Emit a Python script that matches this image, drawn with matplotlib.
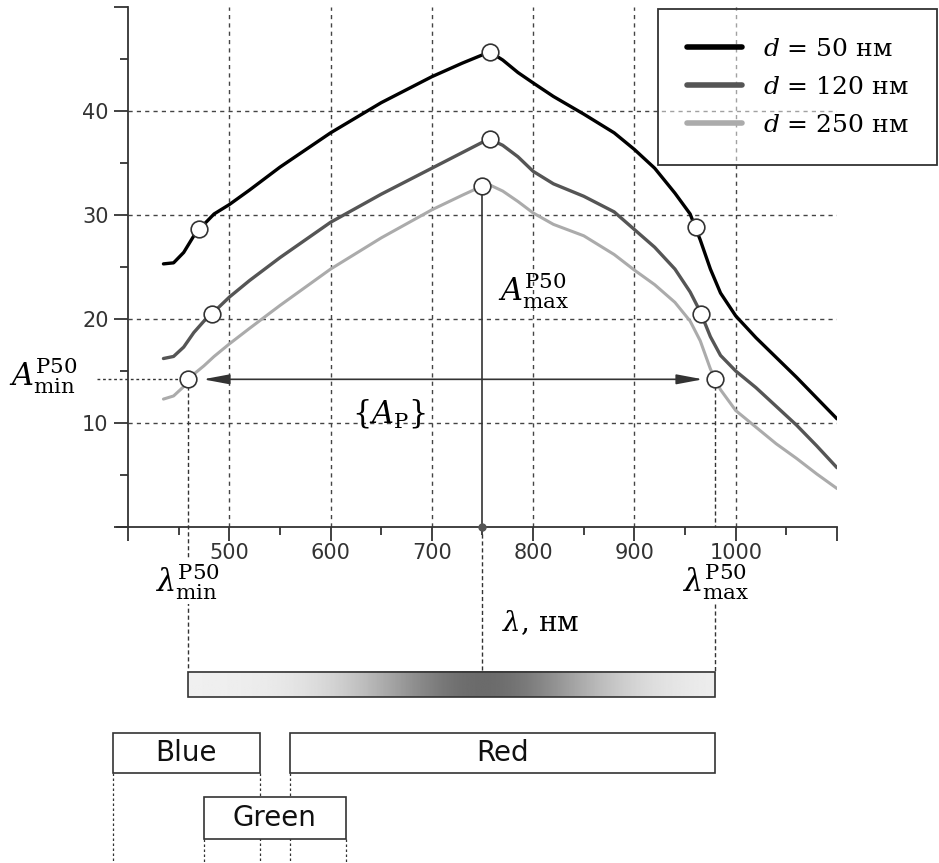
import numpy as np
import matplotlib
matplotlib.use('Agg')
import matplotlib.pyplot as plt
from matplotlib.patches import Rectangle

# spectra
wl = [435, 445, 455, 465, 475, 485, 500, 520, 550, 600, 650, 700, 730, 750, 757,
      770, 785, 800, 820, 850, 880, 900, 920, 940, 955, 965, 975, 985, 1000,
      1020, 1040, 1060, 1080, 1100]
a50 = [25.3, 25.4, 26.4, 28.0, 29.1, 30.1, 31.0, 32.4, 34.6, 37.9, 40.8, 43.3, 44.6,
       45.4, 45.7, 44.9, 43.7, 42.7, 41.4, 39.7, 37.9, 36.3, 34.5, 32.1, 30.1, 27.6,
       24.8, 22.5, 20.3, 18.2, 16.3, 14.4, 12.4, 10.4]
a120 = [16.2, 16.4, 17.3, 18.7, 19.8, 20.7, 22.1, 23.7, 25.9, 29.3, 32.0, 34.5, 36.0,
        37.0, 37.3, 36.7, 35.6, 34.2, 33.0, 31.8, 30.3, 28.6, 26.9, 24.8, 22.6, 20.7,
        18.3, 16.5, 15.0, 13.4, 11.6, 9.8, 7.8, 5.7]
a250 = [12.3, 12.6, 13.5, 14.7, 15.5, 16.4, 17.6, 19.1, 21.3, 24.8, 27.8, 30.5, 31.9,
        32.8, 32.9, 32.3, 31.3, 30.2, 29.1, 28.0, 26.2, 24.7, 23.3, 21.6, 19.8, 17.9,
        15.2, 13.2, 11.2, 9.6, 8.0, 6.6, 5.1, 3.7]
series = [a50, a120, a250]
names = [r'$d$ = 50 нм', r'$d$ = 120 нм', r'$d$ = 250 нм']

# P50 points (min, max, min) per curve
mark_x = [[470, 757, 961], [483, 757, 966], [459, 750, 980]]
mark_y = [[28.7, 45.7, 28.8], [20.5, 37.3, 20.5], [14.2, 32.8, 14.2]]

lam_min, lam_peak, lam_max = 459, 750, 980
a_min, a_max = 14.2, 32.8

bands = ['Blue', 'Green', 'Red']
band_lo = [385, 475, 560]
band_hi = [530, 615, 980]

xticks = [400, 500, 600, 700, 800, 900, 1000, 1100]
xticklabels = ['', '500', '600', '700', '800', '900', '1000', '']
yticks = [0, 10, 20, 30, 40, 50]
yticklabels = ['', '10', '20', '30', '40', '']

colors = ['#000000', '#555555', '#ababab']
widths = [2.4, 2.4, 2.2]
ink = '#333333'

plt.rcParams['mathtext.fontset'] = 'dejavuserif'
serif = 'DejaVu Serif'

fig = plt.figure(figsize=(9.39, 8.63), dpi=100)
ax = fig.add_axes([128/939, 1 - 527/863, 709/939, 520/863])

for ys, c, lw, nm in zip(series, colors, widths, names):
    ax.plot(wl, ys, color=c, lw=lw, label=nm, zorder=3, solid_capstyle='round',
            solid_joinstyle='round')
for mx, my in zip(mark_x, mark_y):
    ax.plot(mx, my, 'o', ms=12, mfc='white', mec=ink, mew=1.2, zorder=5, clip_on=False)

ax.set_xlim(400, 1100)
ax.set_ylim(0, 50)
ax.set_xticks(xticks)
ax.set_xticklabels(xticklabels)
ax.set_yticks(yticks)
ax.set_yticklabels(yticklabels)
ax.set_xticks(np.arange(450, 1100, 100), minor=True)
ax.set_yticks(np.arange(5, 50, 10), minor=True)
ax.tick_params(which='major', length=10, width=1.3, color=ink, labelcolor=ink,
               labelsize=15)
ax.tick_params(which='minor', length=6, width=1.3, color=ink)
ax.tick_params(axis='x', pad=1.5)
ax.tick_params(axis='y', pad=4)
for s in ['top', 'right']:
    ax.spines[s].set_visible(False)
for s in ['left', 'bottom']:
    ax.spines[s].set_color(ink)
    ax.spines[s].set_linewidth(1.3)
# x axis runs a little past the y axis on the left
ax.plot([389, 400], [0, 0], color=ink, lw=1.3, clip_on=False, zorder=2)

for gx in xticks[1:-1]:
    ax.axvline(gx, color='#444444', lw=1, ls=(0, (3, 3)), zorder=1)
for gy in yticks[1:-1]:
    ax.axhline(gy, color='#444444', lw=1, ls=(0, (3, 3)), zorder=1)

# peak line and the {A_P} span
ax.plot([lam_peak, lam_peak], [a_max, 0], color=ink, lw=1.2, zorder=2)
ax.plot([lam_peak], [0], 'o', ms=5, color='#555555', zorder=6, clip_on=False)
ax.annotate('', xy=(lam_min, a_min), xytext=(lam_max, a_min),
            arrowprops=dict(arrowstyle='<|-|>,head_length=0.8,head_width=0.15',
                            color=ink, lw=1.2, shrinkA=9, shrinkB=11,
                            mutation_scale=20), zorder=2)
ax.plot([369, lam_min], [a_min, a_min], color=ink, lw=1, ls=(0, (2, 2)),
        zorder=2, clip_on=False)

# dashed drops down to the gradient bar
bar_top, bar_bot = -13.94, -16.35
ax.plot([lam_min, lam_min], [a_min, bar_top], color=ink, lw=1, ls=(0, (3, 2)),
        zorder=2, clip_on=False)
ax.plot([lam_max, lam_max], [a_min, 0], color=ink, lw=1, ls=(0, (3, 2)),
        zorder=2, clip_on=False)
ax.plot([lam_max, lam_max], [-7.4, bar_top], color=ink, lw=1, ls=(0, (3, 2)),
        zorder=2, clip_on=False)
ax.plot([lam_peak, lam_peak], [0, bar_top], color=ink, lw=1, ls=(0, (3, 2)),
        zorder=2, clip_on=False)

# gradient bar
gx = np.linspace(lam_min, lam_max, 400)
shade = 0.94 - 0.52 * np.exp(-0.5 * ((gx - lam_peak) / 85.0) ** 2)
im = ax.imshow(shade[np.newaxis, :], extent=(lam_min, lam_max, bar_bot, bar_top),
               cmap='gray', vmin=0, vmax=1, aspect='auto', zorder=2)
im.set_clip_on(False)
ax.add_patch(Rectangle((lam_min, bar_bot), lam_max - lam_min, bar_top - bar_bot,
                       fill=False, ec=ink, lw=1.2, clip_on=False, zorder=3))

# colour bands
box_y = [(-23.65, -19.8), (-30.0, -25.96), (-23.65, -19.8)]
fig_bottom = -33
for lo, hi, (b0, b1) in zip(band_lo, band_hi, box_y):
    for xx in (lo, hi):
        if xx == band_hi[-1]:
            continue
        ax.plot([xx, xx], [b0, fig_bottom], color=ink, lw=0.9,
                ls=(0, (2, 2)), clip_on=False, zorder=1)
for name, lo, hi, (b0, b1) in zip(bands, band_lo, band_hi, box_y):
    ax.add_patch(Rectangle((lo, b0), hi - lo, b1 - b0, fc='white', ec=ink, lw=1.2,
                           clip_on=False, zorder=4))
    ax.text((lo + hi) / 2, (b0 + b1) / 2, name, ha='center', va='center',
            fontsize=20, family='DejaVu Sans', color='#111111', zorder=5)

# labels
ax.text(283, 14.5, r'$A_{\mathrm{min}}^{\mathrm{P50}}$', fontsize=22, ha='left',
        va='center', clip_on=False)
ax.text(765, 22.7, r'$A_{\mathrm{max}}^{\mathrm{P50}}$', fontsize=22, ha='left',
        va='center')
ax.text(658, 10.8, r'$\{A_{\mathrm{P}}\}$', fontsize=22, ha='center', va='center')
ax.text(lam_min, -5.3, r'$\lambda_{\mathrm{min}}^{\mathrm{P50}}$', fontsize=22,
        ha='center', va='center', clip_on=False,
        bbox=dict(fc='white', ec='none', pad=1))
ax.text(lam_max, -5.3, r'$\lambda_{\mathrm{max}}^{\mathrm{P50}}$', fontsize=22,
        ha='center', va='center', clip_on=False,
        bbox=dict(fc='white', ec='none', pad=1))
ax.text(807, -9.2, r'$\lambda$, нм', fontsize=20, family=serif, ha='center',
        va='center', clip_on=False)

leg = ax.legend(loc='upper left', bbox_to_anchor=(658/939, 1 - 9/863),
                bbox_transform=fig.transFigure, borderaxespad=0, fancybox=False,
                prop={'family': serif, 'size': 18}, handlelength=2.2,
                handletextpad=0.85, labelspacing=0.6, borderpad=1.15,
                edgecolor=ink)
leg.get_frame().set_linewidth(1.3)
leg.get_frame().set_alpha(None)
leg.get_frame().set_facecolor((1, 1, 1, 0.5))
for h in leg.get_lines():
    h.set_linewidth(4)

fig.savefig('out.png', dpi=100)
